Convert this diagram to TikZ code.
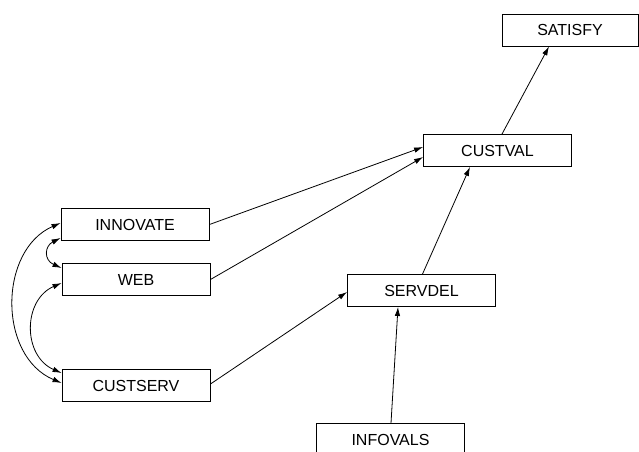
\documentclass[tikz,border=0pt]{standalone}
\usepackage{fontspec}
\setmainfont{Liberation Sans}
\usetikzlibrary{positioning,arrows.meta}

\begin{document}
\begin{tikzpicture}[
  x=1pt,y=-1pt,
  every node/.style={font=\fontsize{16}{19}\selectfont},
  var/.style={draw,line width=0.9pt,minimum width=148pt,minimum height=32pt,inner sep=0pt},
  path/.style={line width=0.8pt,->},
  >={Latex[length=9pt,width=5.5pt]}]
\useasboundingbox (0,0) rectangle (639,451);
\node[var] (innov) at (135,224.5) {INNOVATE};
\node[var] (web) at (136,279.5) {WEB};
\node[var] (cserv) at (136,385.5) {CUSTSERV};
\node[var] (sdel) at (421.5,290.5) {SERVDEL};
\node[var] (info) at (390.5,439.5) {INFOVALS};
\node[var] (cval) at (497.5,150.5) {CUSTVAL};
\node[var,minimum width=136pt] (sat) at (570,30) {SATISFY};
\draw[path] (innov.east) -- ([yshift=3.5pt]cval.west);
\draw[path] (web.east) -- ([yshift=-6.5pt]cval.west);
\draw[path] ([yshift=1.5pt]cserv.east) -- ([yshift=-1.5pt]sdel.west);
\draw[path] ([xshift=1pt]sdel.north) -- ([xshift=-27.5pt]cval.south);
\draw[path] ([xshift=4.5pt]cval.north) -- ([xshift=-21pt]sat.south);
\draw[path] ([xshift=0.5pt]info.north) -- ([xshift=-23.5pt]sdel.south);
% correlations
\draw[path,<->] ([yshift=1.5pt]innov.west) .. controls +(-62,27) and +(-64,-27) .. ([yshift=2.5pt]cserv.west);
\draw[path,<->] ([yshift=-13.5pt]innov.west) .. controls +(-16,8) and +(-18,-8) .. ([yshift=11.5pt]web.west);
\draw[path,<->] ([yshift=-3.5pt]web.west) .. controls +(-39,17) and +(-39,-17) .. ([yshift=12.5pt]cserv.west);
\end{tikzpicture}
\end{document}
